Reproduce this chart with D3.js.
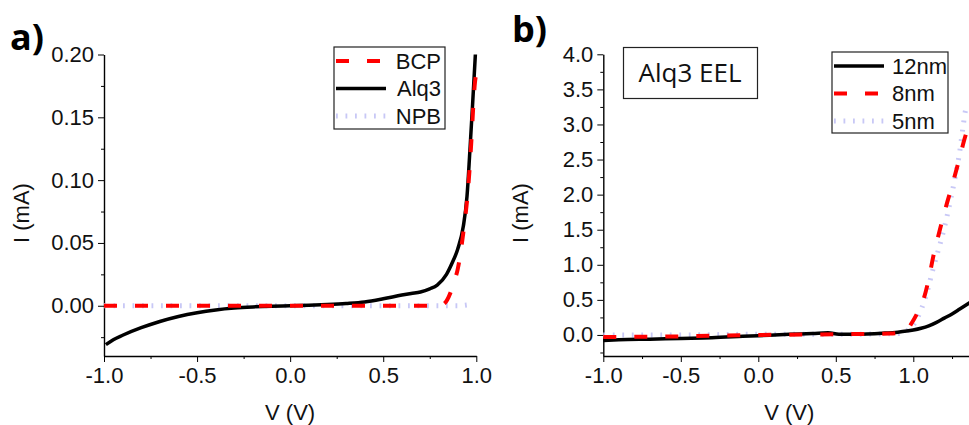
<!DOCTYPE html>
<html>
<head>
<meta charset="utf-8">
<script src="https://cdn.jsdelivr.net/npm/d3@7"></script>
<style>
  body { margin: 0; background: #fff; }
  svg { display: block; }
</style>
</head>
<body>
<svg id="chart" width="969" height="425"></svg>
<script>
// Panel a) data: I (mA) vs V (V)
var alq3V = [-0.99, -0.95, -0.9, -0.8, -0.7, -0.6, -0.5, -0.4, -0.3, -0.2, -0.1, 0, 0.1, 0.2, 0.3, 0.4, 0.5, 0.6, 0.65, 0.7, 0.75, 0.79, 0.84, 0.87, 0.9, 0.93, 0.95, 0.965, 0.98, 0.995];
var alq3I = [-0.031, -0.027, -0.0235, -0.0175, -0.0125, -0.0085, -0.0055, -0.0033, -0.0018, -0.0009, -0.0003, 0, 0.0004, 0.001, 0.0018, 0.003, 0.0055, 0.0085, 0.0098, 0.011, 0.0135, 0.0165, 0.025, 0.034, 0.045, 0.063, 0.087, 0.122, 0.16, 0.20];
var bcpV = [-1, -0.5, 0, 0.5, 0.8, 0.83, 0.86, 0.88, 0.9, 0.93, 0.957, 0.975, 0.985, 0.993, 1.0];
var bcpI = [0, 0, 0, 0, 0, 0.002, 0.010, 0.019, 0.029, 0.058, 0.095, 0.135, 0.162, 0.178, 0.185];
var npbV = [-1, 0, 0.9, 0.97];
var npbI = [0, 0, 0, 0.001];

// Panel b) data: Alq3 EEL thickness
var nm12V = [-1, -0.9, -0.7, -0.5, -0.3, -0.1, 0, 0.2, 0.35, 0.45, 0.52, 0.6, 0.7, 0.8, 0.9, 1.0, 1.05, 1.1, 1.15, 1.2, 1.25, 1.3, 1.37];
var nm12I = [-0.08, -0.07, -0.06, -0.05, -0.04, -0.02, -0.01, 0.01, 0.02, 0.03, 0.01, 0.01, 0.015, 0.025, 0.04, 0.07, 0.095, 0.13, 0.18, 0.24, 0.30, 0.37, 0.47];
var nm8V = [-1, -0.5, 0, 0.5, 0.85, 0.92, 0.96, 0.99, 1.03, 1.065, 1.1, 1.129, 1.16, 1.194, 1.22, 1.248, 1.275, 1.301, 1.325, 1.348, 1.37];
var nm8I = [-0.03, -0.02, 0.0, 0.01, 0.02, 0.035, 0.07, 0.17, 0.33, 0.50, 0.80, 1.12, 1.40, 1.69, 1.90, 2.11, 2.33, 2.54, 2.75, 2.92, 3.05];
var nm5V = [-1, -0.5, 0, 0.5, 0.9, 0.95, 1.0, 1.054, 1.09, 1.12, 1.15, 1.183, 1.21, 1.24, 1.27, 1.3, 1.32, 1.34, 1.37];
var nm5I = [0.0, 0.0, 0.01, 0.01, 0.02, 0.05, 0.14, 0.38, 0.62, 0.88, 1.12, 1.38, 1.62, 1.92, 2.25, 2.62, 2.95, 3.22, 3.28];

// Tick values
var xTicksA = [-1.0, -0.5, 0.0, 0.5, 1.0];
var xMinorA = [-0.75, -0.25, 0.25, 0.75];
var yTicksA = [0.00, 0.05, 0.10, 0.15, 0.20];
var yMinorA = [-0.025, 0.025, 0.075, 0.125, 0.175];
var xTicksB = [-1.0, -0.5, 0.0, 0.5, 1.0];
var xMinorB = [-0.75, -0.25, 0.25, 0.75, 1.25];
var yTicksB = [0.0, 0.5, 1.0, 1.5, 2.0, 2.5, 3.0, 3.5, 4.0];
var yMinorB = [-0.25, 0.25, 0.75, 1.25, 1.75, 2.25, 2.75, 3.25, 3.75];

// Legends
var legendA = ["BCP", "Alq3", "NPB"];
var legendB = ["12nm", "8nm", "5nm"];

//Colours and line styles
var red = "#ff0000";
var black = "#000000";
var lilac = "#c8c8f6";
var styles = {
    solid: { stroke: black, width: 3.5, dash: null },
    dash: { stroke: red, width: 4, dash: "13,18" },
    dot: { stroke: lilac, width: 5, dash: "1.8,7.7" }
};

var font = "'Liberation Sans', Arial, sans-serif";
var svg = d3.select("#chart");

function zip(vs, is) {
    return vs.map(function (v, i) { return [v, is[i]]; });
}

function drawAxes(x, y, xTicks, xMinor, yTicks, yMinor, yFmt) {
    var xBase = y.range()[0];
    var yBase = x.range()[0];

    // minor ticks
    svg.append("g")
        .attr("transform", "translate(0," + xBase + ")")
        .call(d3.axisBottom(x).tickValues(xMinor).tickSize(3).tickFormat(""))
        .call(g => g.select(".domain").remove());
    svg.append("g")
        .attr("transform", "translate(" + yBase + ",0)")
        .call(d3.axisLeft(y).tickValues(yMinor).tickSize(3).tickFormat(""))
        .call(g => g.select(".domain").remove());

    var gx = svg.append("g")
        .attr("transform", "translate(0," + xBase + ")")
        .call(d3.axisBottom(x).tickValues(xTicks).tickSize(6).tickSizeOuter(0)
            .tickPadding(5).tickFormat(d3.format(".1f")));
    var gy = svg.append("g")
        .attr("transform", "translate(" + yBase + ",0)")
        .call(d3.axisLeft(y).tickValues(yTicks).tickSize(6).tickSizeOuter(0)
            .tickPadding(4).tickFormat(d3.format(yFmt)));

    [gx, gy].forEach(function (g) {
        g.attr("font-family", font).attr("font-size", 22);
        g.select(".domain").attr("stroke-width", 1.4);
        g.selectAll("text").attr("fill", "#111");
    });
    gx.selectAll("text").text(function (d) { return d3.format(".1f")(d).replace("\u2212", "-"); });
    gy.selectAll("text").text(function (d) { return d3.format(yFmt)(d).replace("\u2212", "-"); });

    // Axis titles
    svg.append("text")
        .attr("x", (x.range()[0] + x.range()[1]) / 2)
        .attr("y", 420)
        .attr("text-anchor", "middle")
        .attr("font-family", font)
        .attr("font-size", 22)
        .attr("fill", "#111")
        .text("V (V)");
    svg.append("text")
        .attr("transform", "translate(" + (yBase - 75) + ",213) rotate(-90)")
        .attr("text-anchor", "middle")
        .attr("font-family", font)
        .attr("font-size", 22)
        .attr("fill", "#111")
        .text("I (mA)");
}

function drawLine(x, y, pts, st) {
    var line = d3.line()
        .x(d => x(d[0]))
        .y(d => y(d[1]))
        .curve(d3.curveMonotoneX);
    svg.append("path")
        .datum(pts)
        .attr("d", line)
        .attr("fill", "none")
        .attr("stroke", st.stroke)
        .attr("stroke-width", st.width)
        .attr("stroke-dasharray", st.dash);
}

function drawLegend(bx, by, bw, bh, rows, rowStyles, textX, anchor) {
    svg.append("rect")
        .attr("x", bx).attr("y", by)
        .attr("width", bw).attr("height", bh)
        .attr("fill", "#fff")
        .attr("stroke", "#222")
        .attr("stroke-width", 1.2);
    rows.forEach(function (label, i) {
        var cy = by + 14 + i * 27.5;
        var st = rowStyles[i];
        svg.append("line")
            .attr("x1", bx + 2).attr("x2", bx + 52)
            .attr("y1", cy).attr("y2", cy)
            .attr("stroke", st.stroke)
            .attr("stroke-width", st.width)
            .attr("stroke-dasharray", st.dash);
        svg.append("text")
            .attr("x", textX).attr("y", cy)
            .attr("dy", "0.36em")
            .attr("text-anchor", anchor)
            .attr("font-family", font)
            .attr("font-size", 22)
            .attr("fill", "#111")
            .text(label);
    });
}

// ---- Panel a ----
var xA = d3.scaleLinear().domain([-1, 1]).range([104, 476.3]);
var yA = d3.scaleLinear().domain([-0.04, 0.20]).range([356, 54.5]);
drawAxes(xA, yA, xTicksA, xMinorA, yTicksA, yMinorA, ".2f");
drawLine(xA, yA, zip(npbV, npbI), styles.dot);
drawLine(xA, yA, zip(alq3V, alq3I), styles.solid);
drawLine(xA, yA, zip(bcpV, bcpI), styles.dash);
drawLegend(334, 47, 111, 82, legendA, [styles.dash, styles.solid, styles.dot], 441, "end");

svg.append("text")
    .attr("x", 10).attr("y", 50)
    .attr("font-family", "'Open Sans', sans-serif")
    .attr("font-weight", "bold")
    .attr("font-size", 36)
    .text("a)");

// ---- Panel b ----
var xB = d3.scaleLinear().domain([-1, 1.4]).range([603.3, 975.3]);
var yB = d3.scaleLinear().domain([-0.3, 4.0]).range([356, 54.3]);
drawAxes(xB, yB, xTicksB, xMinorB, yTicksB, yMinorB, ".1f");
drawLine(xB, yB, zip(nm5V, nm5I), styles.dot);
drawLine(xB, yB, zip(nm12V, nm12I), styles.solid);
drawLine(xB, yB, zip(nm8V, nm8I), styles.dash);
drawLegend(832, 52, 116, 81, legendB, [styles.solid, styles.dash, styles.dot], 892, "start");

svg.append("text")
    .attr("x", 512).attr("y", 42)
    .attr("font-family", "'Open Sans', sans-serif")
    .attr("font-weight", "bold")
    .attr("font-size", 36)
    .text("b)");

// Alq3 EEL label box
svg.append("rect")
    .attr("x", 623.5).attr("y", 47.5)
    .attr("width", 134).attr("height", 51)
    .attr("fill", "#fff")
    .attr("stroke", "#222")
    .attr("stroke-width", 1.2);
svg.append("text")
    .attr("x", 690).attr("y", 82)
    .attr("text-anchor", "middle")
    .attr("font-family", "'Open Sans', sans-serif")
    .attr("font-size", 26)
    .attr("fill", "#111")
    .text("Alq3 EEL");
</script>
</body>
</html>
